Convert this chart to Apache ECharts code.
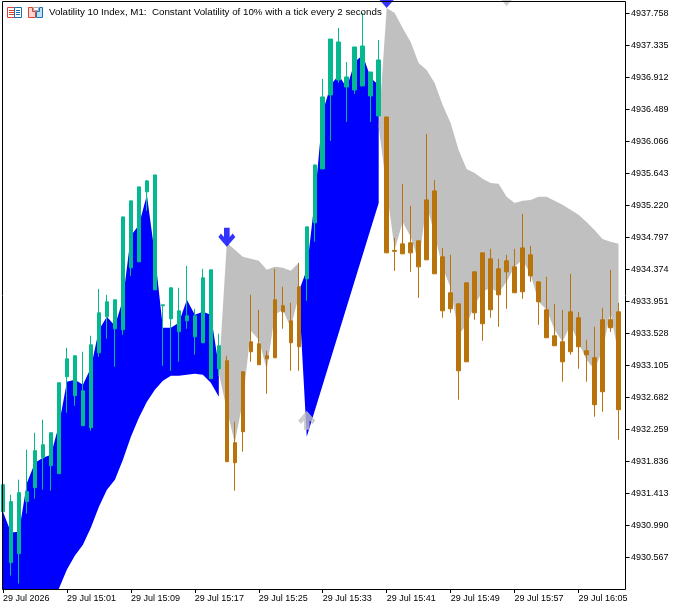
<!DOCTYPE html>
<html>
<head>
<meta charset="utf-8">
<style>html,body{margin:0;padding:0;background:#fff}#c{width:675px;height:603px}</style>
<script src="https://cdn.jsdelivr.net/npm/echarts@6/dist/echarts.min.js"></script>
</head>
<body>
<div id="c"></div>
<script>
var chartTitle = "Volatility 10 Index, M1:  Constant Volatility of 10% with a tick every 2 seconds";
var xTickLabels = ["29 Jul 2026","29 Jul 15:01","29 Jul 15:09","29 Jul 15:17","29 Jul 15:25","29 Jul 15:33","29 Jul 15:41","29 Jul 15:49","29 Jul 15:57","29 Jul 16:05"];
var yTicks = [4937.758,4937.335,4936.912,4936.489,4936.066,4935.643,4935.220,4934.797,4934.374,4933.951,4933.528,4933.105,4932.682,4932.259,4931.836,4931.413,4930.990,4930.567];

var opens = [4931.167,4930.493,4930.612,4931.300,4931.485,4931.881,4931.775,4931.670,4932.952,4932.701,
4932.304,4932.278,4933.269,4933.745,4933.587,4933.573,4934.393,4934.472,4935.398,4934.102,
4933.891,4933.719,4933.547,4933.692,4933.481,4933.402,4932.926,4933.058,
4933.164,4932.080,4933.018,4933.415,4933.388,4933.230,4933.970,4933.891,4933.692,4934.142,
4934.248,4934.988,4935.702,4936.680,4936.878,4936.786,4936.746,4936.799,4936.667,4936.402,
4936.389,4934.624,4934.710,4934.724,4934.750,4935.292,4935.411,4934.538,4934.063,4933.917,
4934.195,4934.340,4934.591,4934.512,4934.380,4934.486,4934.406,4934.657,4934.565,4934.208,
4933.838,4933.494,4933.415,4933.811,4933.732,4933.296,4933.203,4933.706,4933.706,4933.811];
var closes = [4931.524,4931.300,4931.419,4931.432,4931.974,4932.053,4932.212,4932.873,4933.190,4933.230,
4932.767,4933.375,4933.798,4933.944,4933.970,4935.067,4935.279,4935.464,4935.543,4935.622,
4933.904,4934.129,4933.825,4933.758,4933.758,4934.261,4934.367,4933.362,
4931.828,4931.815,4932.225,4933.283,4933.111,4933.190,4933.203,4933.811,4933.402,4933.349,
4934.935,4935.755,4936.654,4937.420,4937.381,4936.918,4937.315,4937.328,4936.984,4937.143,
4934.591,4934.611,4934.578,4934.591,4934.406,4934.499,4934.314,4933.825,4933.851,4933.031,
4933.150,4933.798,4933.653,4933.838,4934.036,4934.340,4934.063,4934.076,4934.287,4933.944,
4933.468,4933.362,4933.150,4933.283,4933.349,4933.243,4932.582,4932.754,4933.600,4932.516];
var lows = [4931.167,4930.321,4930.216,4931.141,4931.339,4931.458,4931.445,4931.670,4932.476,4932.569,
4932.304,4932.238,4933.216,4933.454,4933.084,4933.507,4934.287,4934.472,4935.147,4934.102,
4933.097,4933.031,4933.150,4933.587,4933.243,4933.402,4932.926,4932.965,
4931.828,4931.445,4931.961,4933.150,4933.111,4932.727,4933.203,4933.587,4933.031,4933.031,
4933.957,4934.737,4935.702,4936.072,4936.839,4936.323,4936.693,4936.799,4936.323,4936.402,
4934.591,4934.353,4934.578,4934.340,4933.996,4934.499,4934.314,4933.732,4933.798,4932.648,
4933.150,4933.706,4933.428,4933.732,4933.613,4933.851,4934.063,4933.983,4934.208,4933.639,
4933.468,4933.362,4932.886,4933.243,4933.058,4932.886,4932.423,4932.489,4933.547,4932.119];
var highs = [4931.524,4931.392,4931.590,4931.987,4932.212,4932.384,4932.212,4932.873,4933.335,4933.230,
4933.283,4933.494,4934.115,4934.036,4933.970,4935.067,4935.279,4935.464,4935.556,4935.622,
4933.904,4934.129,4934.129,4934.419,4933.851,4934.380,4934.367,4933.521,
4933.230,4932.357,4933.018,4934.036,4933.838,4933.296,4934.380,4934.142,4933.930,4934.459,
4934.935,4935.755,4936.892,4937.420,4937.566,4937.116,4937.315,4937.764,4936.984,4937.407,
4936.389,4934.790,4935.504,4935.213,4934.750,4936.165,4935.556,4934.657,4934.565,4933.917,
4934.195,4934.340,4934.591,4934.644,4934.512,4934.565,4934.644,4935.107,4934.684,4934.208,
4934.274,4933.917,4933.838,4934.314,4933.811,4933.441,4933.613,4933.864,4934.367,4933.930];

// Indicator lines: the fill is blue where lineA is above lineB and grey where it is below.
var lineA = [4931.167,4930.890,4930.903,4931.551,4931.815,4931.881,4931.921,4932.317,4932.886,4932.912,
4932.846,4933.071,4933.573,4933.745,4933.626,4933.970,4934.816,4934.961,4935.358,4934.565,
4933.600,4933.600,4933.666,4933.970,4933.772,4933.811,4933.772,4933.084,
4932.516,4932.080,4932.622,4933.560,4933.441,4933.045,4933.772,4933.838,4933.600,4934.023,
4934.367,4935.292,4936.455,4936.812,4936.944,4936.773,4937.116,4937.209,4936.905,4936.812,
4935.424,4934.631,4935.001,4934.803,4934.472,4935.226,4934.829,4934.393,4934.129,4933.507,
4933.639,4933.904,4934.076,4934.129,4934.063,4934.208,4934.406,4934.499,4934.300,4933.944,
4933.838,4933.573,4933.415,4933.639,4933.402,4933.177,4933.045,4933.309,4933.798,4933.243];
var lineB = [4929.105,4929.145,4929.184,4929.277,4929.409,4929.607,4929.845,4930.149,4930.401,4930.586,
4930.731,4930.956,4931.233,4931.458,4931.590,4931.855,4932.159,4932.410,4932.622,4932.780,
4932.899,4932.965,4932.965,4932.978,4932.992,4932.978,4932.873,4932.688,
4934.724,4934.631,4934.538,4934.512,4934.486,4934.367,4934.406,4934.393,4934.353,4934.459,
4932.159,4932.503,4932.846,4933.190,4933.534,4933.877,4934.221,4934.565,4934.909,4935.252,
4937.830,4937.764,4937.566,4937.381,4937.103,4937.011,4936.839,4936.548,4936.310,4935.953,
4935.702,4935.649,4935.570,4935.517,4935.504,4935.332,4935.252,4935.279,4935.292,4935.332,
4935.332,4935.279,4935.226,4935.160,4935.094,4935.001,4934.895,4934.776,4934.737,4934.710];

var blueDownArrows = [[28,4934.671],[48,4937.830]];
var greyDownArrows = [[63,4937.857]];
var greyUpArrows = [[38,4932.503]];

var GREEN = "#05B88F", ORANGE = "#B8730A", BLUE = "#0000FF", GREY = "#C0C0C0";
var FONT = "'Liberation Sans'";

var categories = [];
for (var k = 0; k < 79; k++) categories.push(k % 8 === 0 ? xTickLabels[k / 8] : "");

var candleData = opens.map(function (o, i) { return [o, closes[i], lows[i], highs[i]]; });

// Split the two lines into runs of one colour, with the crossing between bars worked out.
var runs = [];
(function () {
  var cur = { blue: lineA[0] > lineB[0], a: [[0, lineA[0]]], b: [[0, lineB[0]]] };
  for (var i = 0; i < lineA.length - 1; i++) {
    var d0 = lineA[i] - lineB[i], d1 = lineA[i + 1] - lineB[i + 1];
    if ((d0 > 0) !== (d1 > 0)) {
      var t = d0 / (d0 - d1), cy = lineA[i] + t * (lineA[i + 1] - lineA[i]);
      cur.a.push([i + t, cy]); cur.b.push([i + t, cy]);
      runs.push(cur);
      cur = { blue: d1 > 0, a: [[i + t, cy]], b: [[i + t, cy]] };
    }
    cur.a.push([i + 1, lineA[i + 1]]); cur.b.push([i + 1, lineB[i + 1]]);
  }
  runs.push(cur);
})();

var DOWN = "path://M5.5 0L11 0L11 9L14 5.5L16.5 9L8.25 18.5L0 9L2.5 5.5L5.5 9Z";
var UP = "path://M8.25 0L16.5 9.5L14 13L11 9.5L11 18.5L5.5 18.5L5.5 9.5L2.5 13L0 9.5Z";

var chart = echarts.init(document.getElementById("c"), null, { renderer: "canvas" });
chart.setOption({
  animation: false,
  backgroundColor: "#fff",
  title: { text: chartTitle, left: 49, top: 7, padding: 0,
    textStyle: { fontFamily: FONT, fontSize: 9.75, fontWeight: "normal", color: "#000" } },
  grid: { left: 2.5, top: 1.5, width: 624, height: 588, containLabel: false },
  xAxis: {
    type: "category", data: categories, boundaryGap: false,
    axisLine: { show: false },
    axisTick: { show: true, length: 4, interval: 7, lineStyle: { color: "#000" } },
    axisLabel: { show: true, interval: 7, align: "left", margin: 5, color: "#000", fontFamily: FONT, fontSize: 9 },
    splitLine: { show: false }
  },
  yAxis: {
    type: "value", position: "right", offset: -1,
    min: 4930.144, max: 4937.9166, scale: true,
    axisLine: { show: false },
    axisTick: { show: true, length: 4, customValues: yTicks, lineStyle: { color: "#000" } },
    axisLabel: { show: true, margin: 5.5, color: "#000", fontFamily: FONT, fontSize: 9, customValues: yTicks,
      formatter: function (v) { return v.toFixed(3); } },
    splitLine: { show: false }
  },
  series: [
    { type: "custom", coordinateSystem: "cartesian2d", clip: true, z: 1,
      data: runs.map(function (r) { return [r.a[0][0], r.a[0][1]]; }),
      encode: { x: 0, y: 1 },
      silent: true,
      renderItem: function (params, api) {
        var r = runs[params.dataIndex];
        var pts = r.a.concat(r.b.slice().reverse()).map(function (p) { return api.coord(p); });
        return { type: "polygon", shape: { points: pts }, style: { fill: r.blue ? BLUE : GREY, stroke: null } };
      } },
    { type: "candlestick", data: candleData, barWidth: 4, z: 2, clip: true,
      itemStyle: { color: GREEN, color0: ORANGE, borderColor: GREEN, borderColor0: ORANGE, borderColorDoji: GREEN, borderWidth: 1 } },
    { type: "scatter", data: blueDownArrows, symbol: DOWN, symbolSize: [17, 19], symbolOffset: [0, -9.5], z: 3, clip: true, itemStyle: { color: BLUE } },
    { type: "scatter", data: greyDownArrows, symbol: DOWN, symbolSize: [17, 19], symbolOffset: [0, -9.5], z: 3, clip: true, itemStyle: { color: GREY } },
    { type: "scatter", data: greyUpArrows, symbol: UP, symbolSize: [17, 19], symbolOffset: [0, 9.5], z: 3, clip: true, itemStyle: { color: GREY } }
  ],
  graphic: [
    { type: "rect", z: 100, silent: true, shape: { x: 2.5, y: 1.5, width: 623, height: 588 }, style: { fill: null, stroke: "#000", lineWidth: 1 } },
    { type: "rect", z: 90, silent: true, shape: { x: 7.5, y: 7.5, width: 7, height: 10 }, style: { fill: "#fff", stroke: "#D9413A" } },
    { type: "rect", z: 90, silent: true, shape: { x: 14.5, y: 7.5, width: 7, height: 10 }, style: { fill: "#fff", stroke: "#1E6FB0" } },
    { type: "line", z: 91, silent: true, shape: { x1: 9, y1: 10.5, x2: 14, y2: 10.5 }, style: { stroke: "#D9413A" } },
    { type: "line", z: 91, silent: true, shape: { x1: 9, y1: 12.5, x2: 14, y2: 12.5 }, style: { stroke: "#D9413A" } },
    { type: "line", z: 91, silent: true, shape: { x1: 9, y1: 14.5, x2: 14, y2: 14.5 }, style: { stroke: "#D9413A" } },
    { type: "line", z: 91, silent: true, shape: { x1: 16, y1: 10.5, x2: 20, y2: 10.5 }, style: { stroke: "#1E6FB0" } },
    { type: "line", z: 91, silent: true, shape: { x1: 16, y1: 12.5, x2: 20, y2: 12.5 }, style: { stroke: "#1E6FB0" } },
    { type: "line", z: 91, silent: true, shape: { x1: 16, y1: 14.5, x2: 20, y2: 14.5 }, style: { stroke: "#1E6FB0" } },
    { type: "polygon", z: 90, silent: true, shape: { points: [[28.5,7.5],[32.5,7.5],[32.5,11.5],[35.5,11.5],[35.5,17.5],[28.5,17.5]] }, style: { fill: "#FBD7D0", stroke: "#D9413A" } },
    { type: "polygon", z: 90, silent: true, shape: { points: [[42.5,7.5],[39.5,7.5],[39.5,11.5],[36.5,11.5],[36.5,17.5],[42.5,17.5]] }, style: { fill: "#BFE1F5", stroke: "#1E6FB0" } },
    { type: "rect", z: 91, silent: true, shape: { x: 33.5, y: 7.5, width: 5, height: 3 }, style: { fill: "#fff", stroke: "#AAAAAA" } }
  ]
});
</script>
</body>
</html>
